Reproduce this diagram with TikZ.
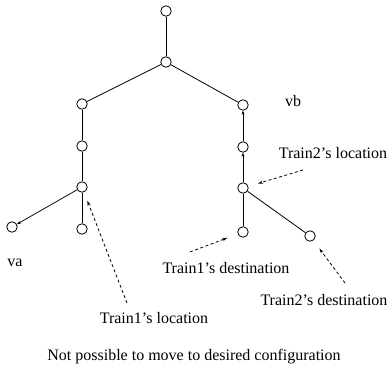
\documentclass[tikz,border=0pt]{standalone}
\usepackage{fontspec}
\setmainfont{Liberation Serif}
\usetikzlibrary{arrows.meta}

\begin{document}
\begin{tikzpicture}[x=1pt,y=-1pt,
  vtx/.style={draw,circle,inner sep=0pt,minimum size=10.5pt,line width=0.8pt,fill=white},
  edge/.style={line width=0.8pt},
  up/.style={edge,-{Stealth[length=4pt,width=3pt]}},
  hint/.style={dashed,line width=0.8pt,dash pattern=on 3pt off 2.5pt,-{Stealth[length=5pt,width=3pt]}},
  lbl/.style={font=\fontsize{16}{18}\selectfont,inner sep=0pt}
]
  \useasboundingbox (0,0) rectangle (392,380);

  % tree
  \node[vtx] (top) at (166,11) {};
  \node[vtx] (root) at (166,62) {};
  \node[vtx] (l1) at (82,104) {};
  \node[vtx] (l2) at (82,146) {};
  \node[vtx] (l3) at (82,187) {};
  \node[vtx] (va) at (12,227) {};
  \node[vtx] (l4) at (82,229) {};
  \node[vtx] (vb) at (243,105) {};
  \node[vtx] (r2) at (243,147) {};
  \node[vtx] (r3) at (243,188) {};
  \node[vtx] (r4) at (243,232) {};
  \node[vtx] (r5) at (310,236) {};

  \draw[edge] (top) -- (root);
  \draw[edge] (root) -- (l1);
  \draw[edge] (root) -- (vb);
  \draw[edge] (l1) -- (l2);
  \draw[edge] (l2) -- (l3);
  \draw[up] (l3) -- (va);
  \draw[edge] (l3) -- (l4);
  \draw[up] (r2) -- (vb);
  \draw[up] (r3) -- (r2);
  \draw[edge] (r3) -- (r4);
  \draw[edge] (r3) -- (r5);

  % labels
  \node[lbl] (lva) at (15,263) {va};
  \node[lbl] (lvb) at (293,101) {vb};
  \node[lbl] (t2loc) at (333,153) {Train2's location};
  \node[lbl] (t1dst) at (226,268) {Train1's destination};
  \node[lbl] (t2dst) at (324,300) {Train2's destination};
  \node[lbl] (t1loc) at (154,318) {Train1's location};
  \node[lbl] (caption) at (194,357) {Not possible to move to desired configuration};

  % pointers
  \coordinate (p1) at (303,170);
  \coordinate (p2) at (190,252);
  \coordinate (p3) at (345,283);
  \coordinate (p4) at (127,303);
  \draw[hint,shorten >=10pt] (p1) -- (r3);
  \draw[hint,shorten >=11pt] (p2) -- (r4);
  \draw[hint,shorten >=10pt] (p3) -- (r5);
  \draw[hint,shorten >=9pt] (p4) -- (l3);
\end{tikzpicture}
\end{document}
